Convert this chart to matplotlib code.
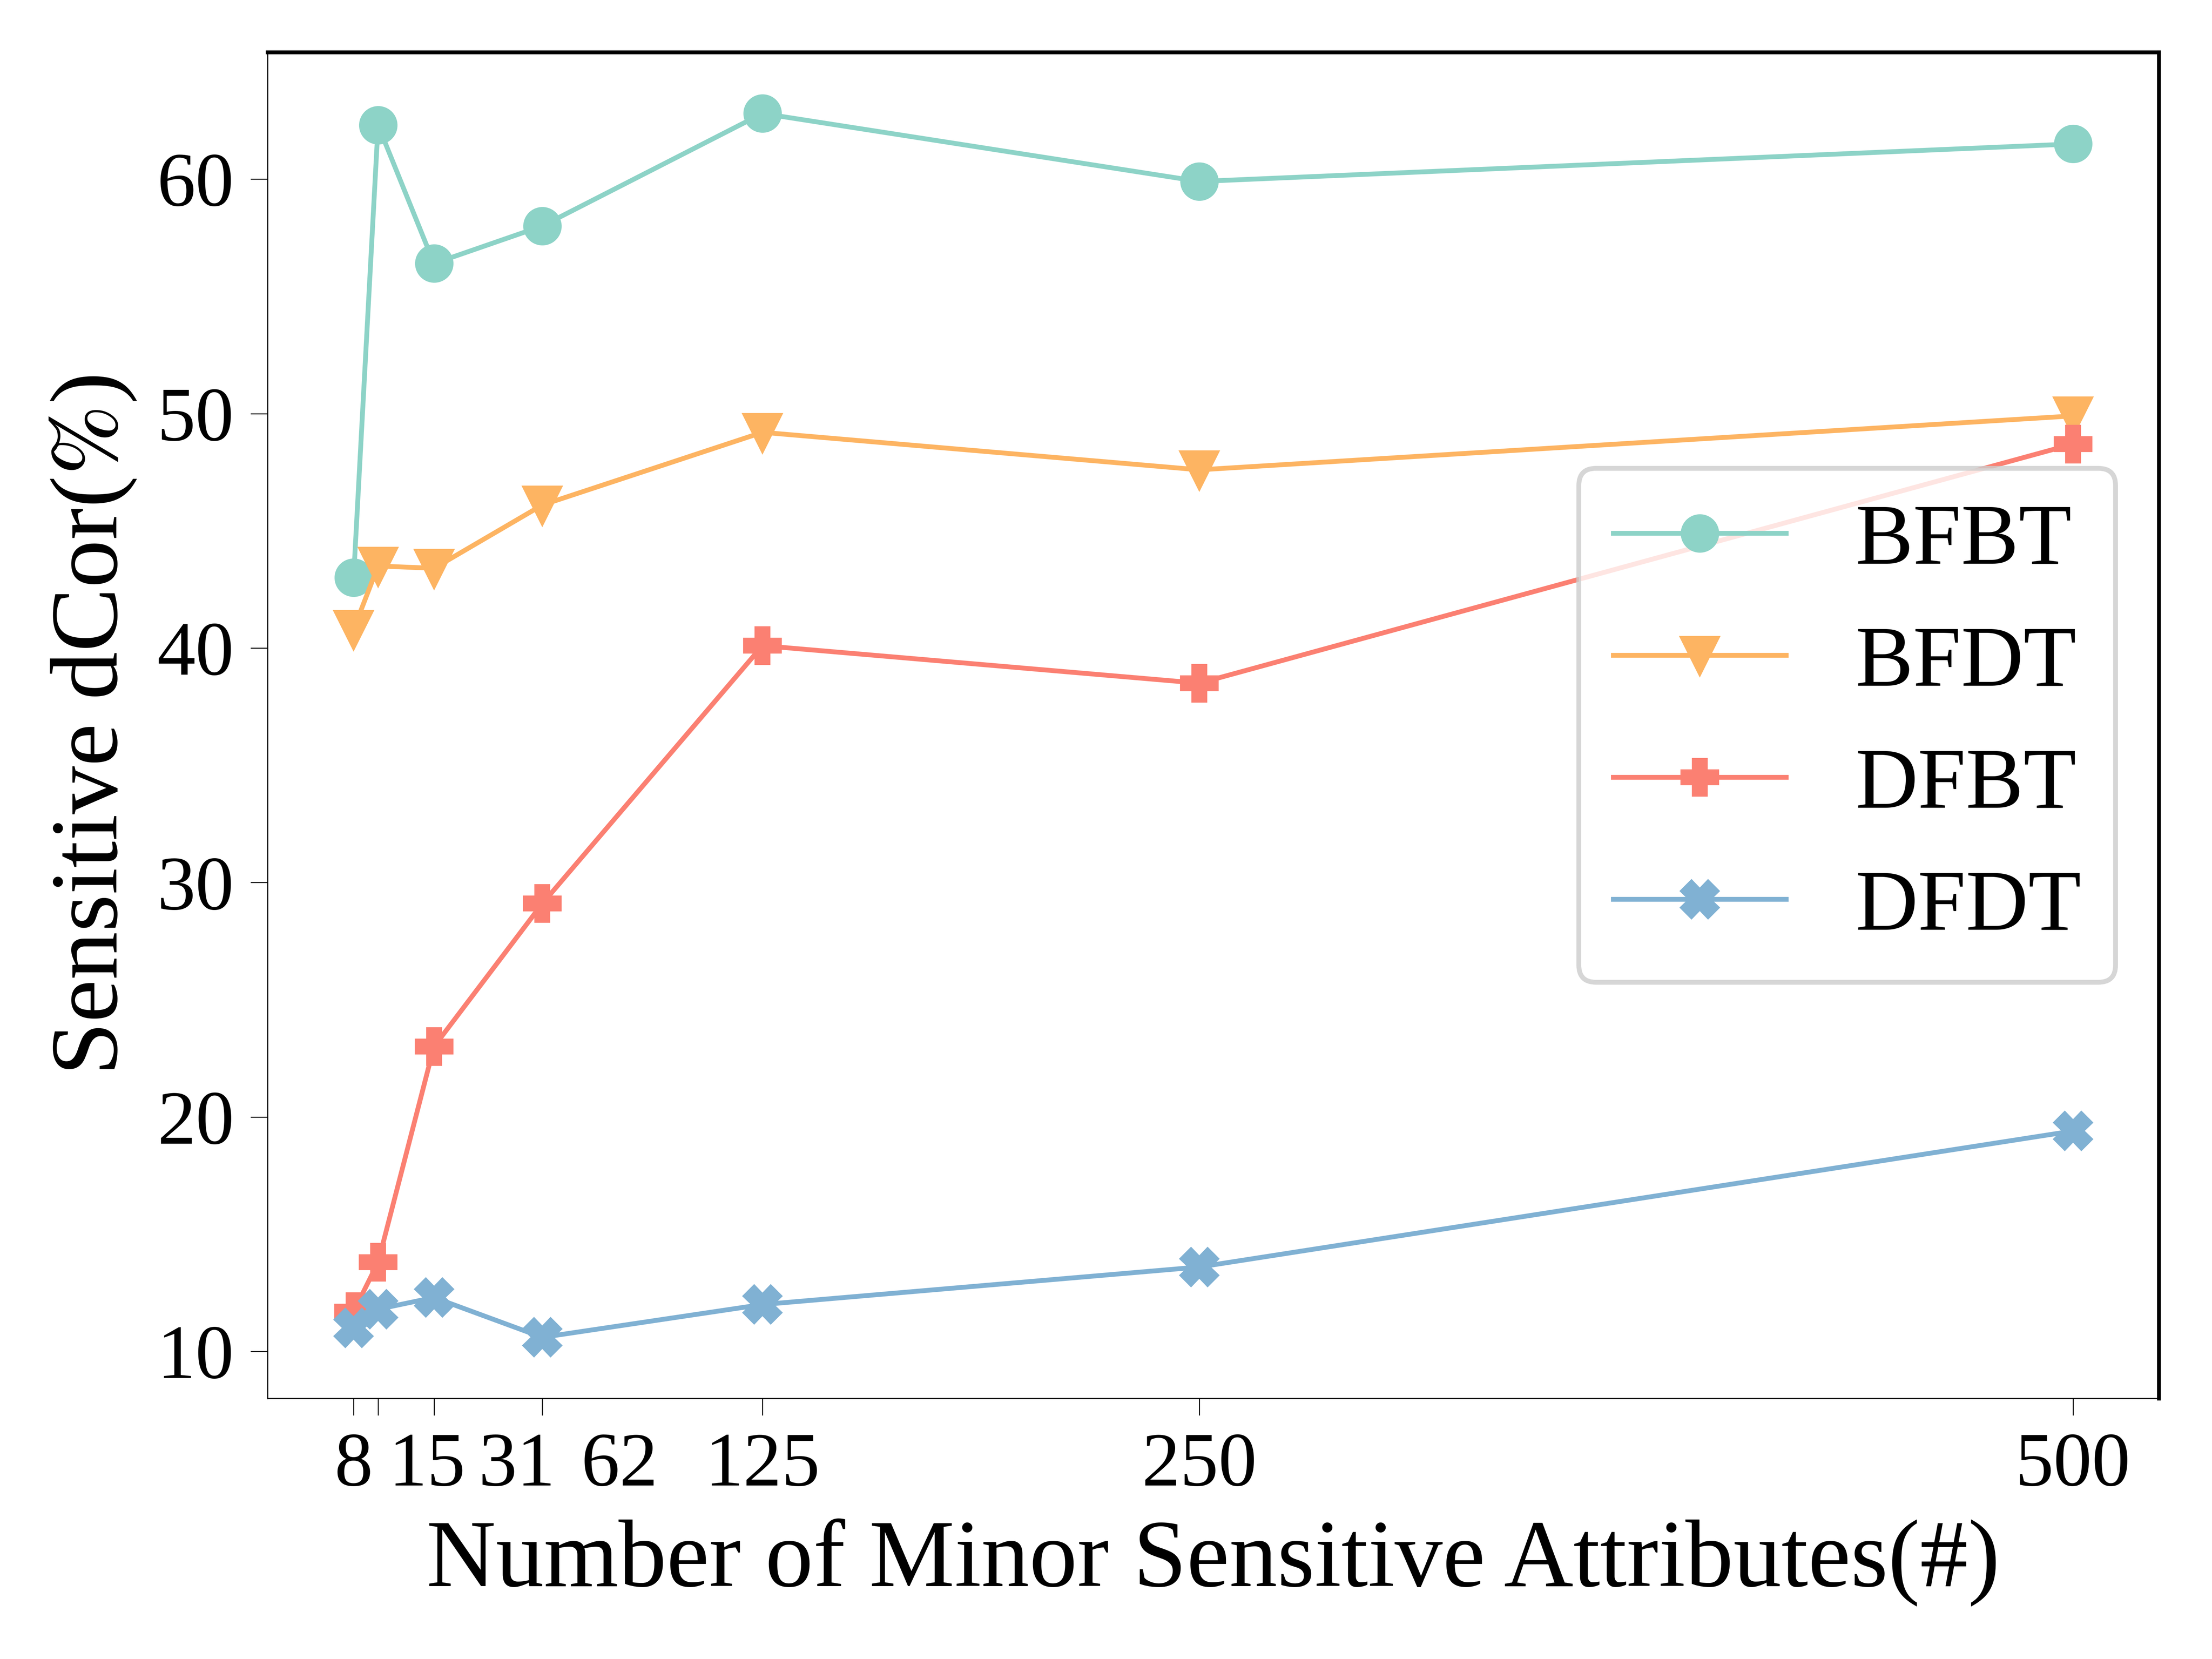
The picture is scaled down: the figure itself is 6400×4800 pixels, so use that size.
import matplotlib
matplotlib.use("Agg")
import matplotlib.pyplot as plt
from matplotlib.transforms import ScaledTranslation

# number of minor sensitive attributes on the x axis
num_attrs = [8, 15, 31, 62, 125, 250, 500]
tick_labels = ["8", "15", "31", "62", "125", "250", "500"]

# sensitive dCor (%) per method
bfbt = [43.0, 62.3, 56.4, 58.0, 62.8, 59.9, 61.5]
bfdt = [40.8, 43.5, 43.4, 46.1, 49.2, 47.6, 49.9]
dfbt = [11.7, 13.8, 23.0, 29.1, 40.1, 38.5, 48.7]
dfdt = [11.0, 11.8, 12.3, 10.6, 12.0, 13.6, 19.4]

series = [("BFBT", bfbt, "#8dd3c7", "o"),
          ("BFDT", bfdt, "#fdb462", "v"),
          ("DFBT", dfbt, "#fb8072", "P"),
          ("DFDT", dfdt, "#80b1d3", "X")]

plt.rcParams["font.family"] = ["Liberation Serif", "DejaVu Serif"]
plt.rcParams["mathtext.fontset"] = "stix"

fig, ax = plt.subplots(figsize=(6.4, 4.8), dpi=1000)
fig.subplots_adjust(left=0.121, right=0.976, bottom=0.157, top=0.9685)

for name, vals, color, marker in series:
    ax.plot(num_attrs, vals, color=color, marker=marker, markersize=7,
            linewidth=1.0, label=name)

ax.set_xticks(num_attrs)
ax.set_xticklabels(tick_labels)
ax.tick_params(axis="both", labelsize=16, width=0.2, length=3.5)

# the small tick labels are nudged to the right so they don't overlap
nudges = [0, 10.2, 17.3, 16.1, 0, 0, 0]
for lab, dx in zip(ax.get_xticklabels(), nudges):
    if dx:
        lab.set_transform(lab.get_transform() + ScaledTranslation(dx / 72, 0, fig.dpi_scale_trans))

for side in ["left", "bottom"]:
    ax.spines[side].set_linewidth(0.25)
for side in ["top", "right"]:
    ax.spines[side].set_linewidth(0.8)

ax.set_xlabel("Number of Minor Sensitive Attributes(#)", fontsize=20, labelpad=3.5)
ax.set_ylabel(r"Sensitive dCor($\%$)", fontsize=20)

ax.legend(loc="center right", fontsize=18)

fig.savefig("out.png", dpi=1000)
